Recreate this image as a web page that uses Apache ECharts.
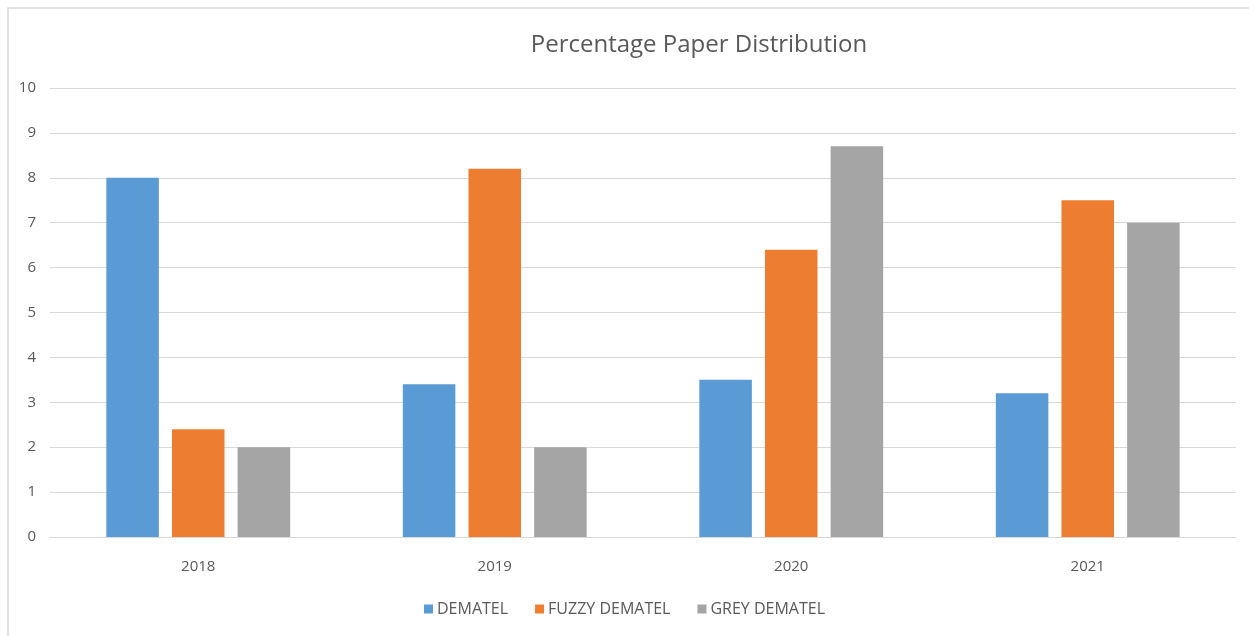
<!DOCTYPE html>
<html>
<head>
<meta charset="utf-8">
<script src="https://cdn.jsdelivr.net/npm/echarts@6/dist/echarts.min.js"></script>
<style>
  html, body { margin: 0; padding: 0; background: #fff; }
  #chart { width: 1249px; height: 636px; }
</style>
</head>
<body>
<div id="chart"></div>
<script>
// Years on the category axis
const years = ['2018', '2019', '2020', '2021'];
// Percentage of papers per method and year
const dematel = [8.0, 3.4, 3.5, 3.2];
const fuzzyDematel = [2.4, 8.2, 6.4, 7.5];
const greyDematel = [2.0, 2.0, 8.7, 7.0];
const seriesNames = ['DEMATEL', 'FUZZY DEMATEL', 'GREY DEMATEL'];

const FONT = '"Open Sans", "Liberation Sans", sans-serif';
const TEXT = '#595959';
const GRID = '#d9d9d9';

const chart = echarts.init(document.getElementById('chart'));

function bar(name, data, color) {
  return {
    name: name,
    type: 'bar',
    data: data,
    barGap: '25%',
    barCategoryGap: '38%',
    itemStyle: { color: color },
    emphasis: { disabled: true }
  };
}

chart.setOption({
  animation: false,
  backgroundColor: '#fff',
  graphic: [{
    type: 'polyline',
    shape: { points: [[8, 636], [8, 8], [1249, 8]] },
    style: { stroke: GRID, lineWidth: 1.5, fill: null },
    silent: true
  }],
  title: {
    text: 'Percentage Paper Distribution',
    left: 694,
    top: 28,
    textAlign: 'center',
    textStyle: { fontFamily: FONT, fontSize: 24, fontWeight: 'normal', color: TEXT }
  },
  legend: {
    data: seriesNames,
    bottom: 14,
    left: 'center',
    itemWidth: 9,
    itemHeight: 9,
    itemGap: 27,
    icon: 'rect',
    textStyle: { fontFamily: FONT, fontSize: 16, color: TEXT, padding: [0, 0, 0, -1] }
  },
  grid: { left: 50, right: 13, top: 88, bottom: 99 },
  xAxis: {
    type: 'category',
    data: years,
    axisLine: { lineStyle: { color: GRID, width: 1 } },
    axisTick: { show: false },
    axisLabel: { fontFamily: FONT, fontSize: 15, color: TEXT, margin: 22 }
  },
  yAxis: {
    type: 'value',
    min: 0,
    max: 10,
    interval: 1,
    axisLine: { show: false },
    axisTick: { show: false },
    splitLine: { lineStyle: { color: GRID, width: 1 } },
    axisLabel: { fontFamily: FONT, fontSize: 15, color: TEXT, margin: 14 }
  },
  series: [
    bar(seriesNames[0], dematel, '#5b9bd5'),
    bar(seriesNames[1], fuzzyDematel, '#ed7d31'),
    bar(seriesNames[2], greyDematel, '#a5a5a5')
  ]
});
</script>
</body>
</html>
